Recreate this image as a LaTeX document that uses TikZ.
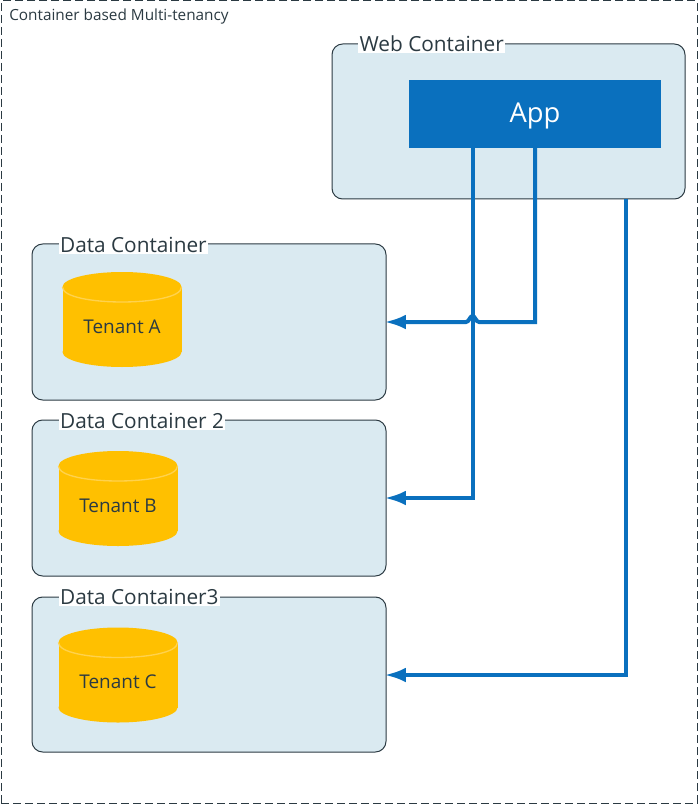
\documentclass[tikz,border=0pt]{standalone}
\usepackage{fontspec}
\setmainfont{Open Sans}
\usetikzlibrary{arrows.meta}
\definecolor{boxfill}{HTML}{DAEAF1}
\definecolor{boxline}{HTML}{2B3A42}
\definecolor{appblue}{HTML}{0A70BE}
\definecolor{gold}{HTML}{FFC000}
\definecolor{goldline}{HTML}{FFD24D}
\tikzset{
 x=0.75pt,y=-0.75pt,
 frame/.style={draw=boxline,dash pattern=on 6pt off 3pt,line width=0.75pt,fill=white},
 container/.style={draw=boxline,fill=boxfill,rounded corners=8pt,line width=0.75pt},
 clabel/.style={fill=white,inner sep=1pt,font=\fontsize{15.6}{17}\selectfont,anchor=west,text=boxline},
 dbtext/.style={font=\fontsize{14.2}{16}\selectfont,text=boxline,inner sep=0pt},
 dbrim/.style={draw=goldline,line width=1pt},
 link/.style={draw=appblue,line width=3pt,-{Latex[length=16pt,width=11pt]}},
}
\newcommand{\tenantdb}[2]{% centre x, top y
 \fill[gold] (#1,#2+15) ellipse [x radius=59.5,y radius=15];
 \fill[gold] (#1-59.5,#2+15) rectangle (#1+59.5,#2+80);
 \fill[gold] (#1,#2+80) ellipse [x radius=59.5,y radius=15];
 \draw[dbrim] (#1-59.5,#2+15) .. controls (#1-59.5,#2+35) and (#1+59.5,#2+35) .. (#1+59.5,#2+15);
}
\begin{document}
\begin{tikzpicture}
\useasboundingbox (0,0) rectangle (698,805);
\node[frame,minimum width=522pt,minimum height=601.5pt,inner sep=0pt] (outer) at (349,402) {};
\node[anchor=west,inner sep=0pt,font=\fontsize{11.5}{13}\selectfont,text=boxline] (title) at (9,17) {Container based Multi-tenancy};
\path[container] (332,44) rectangle (685,199);
\node[clabel] (weblabel) at (358,44) {Web Container};
\node[fill=appblue,text=white,minimum width=189pt,minimum height=51pt,inner sep=0pt] (app) at (535,114) {};
\node[text=white,font=\fontsize{20.5}{24}\selectfont,inner sep=0pt] (applabel) at (535,116) {App};
\path[container] (32,244) rectangle (386,400);
\node[clabel] (l1) at (58.5,245) {Data Container};
\path[container] (32,420) rectangle (386,576);
\node[clabel] (l2) at (58.5,421) {Data Container 2};
\path[container] (32,597) rectangle (386,752);
\node[clabel] (l3) at (58.5,597) {Data Container3};
\tenantdb{122}{272}
\tenantdb{118}{451}
\tenantdb{118}{627.5}
\node[dbtext] (ta) at (122,327) {Tenant A};
\node[dbtext] (tb) at (118,506) {Tenant B};
\node[dbtext] (tc) at (118,682) {Tenant C};
\coordinate (t1) at (384.5,322);
\coordinate (t2) at (384.5,498);
\coordinate (t3) at (384.5,675);
\coordinate (s1) at (535,148);
\coordinate (s2) at (472.5,148);
\coordinate (s3) at (626,199);
\coordinate (c1) at (535,322);
\coordinate (h1) at (479,322);
\coordinate (h2) at (466,322);
\coordinate (ht) at (472.5,316);
\draw[link] (s2) |- (t2);
\draw[link] (s3) |- (t3);
\draw[link] (s1) -- (c1) -- (h1) .. controls (476,322) and (475,316) .. (ht) .. controls (470,316) and (469,322) .. (h2) -- (t1);
\end{tikzpicture}
\end{document}
